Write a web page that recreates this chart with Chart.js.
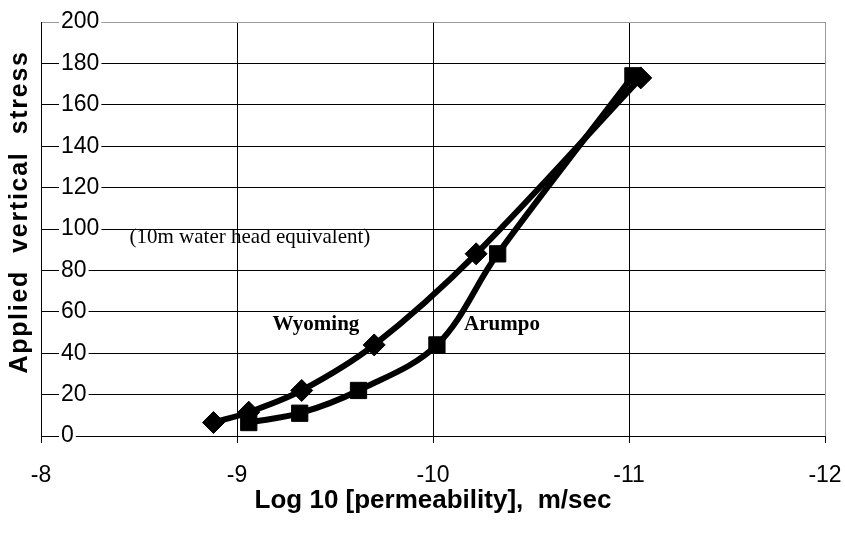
<!DOCTYPE html>
<html>
<head>
<meta charset="utf-8">
<script src="https://cdn.jsdelivr.net/npm/chart.js@4/dist/chart.umd.min.js"></script>
<style>
  html, body { margin: 0; padding: 0; background: #fff; }
  #wrap { width: 845px; height: 538px; position: relative; }
</style>
</head>
<body>
<div id="wrap"><canvas id="permChart"></canvas></div>
<script>
// log10 permeability (m/sec) and applied vertical stress
const wyomingPerm = [-8.88, -9.06, -9.33, -9.70, -10.22, -11.06];
const wyomingStress = [6.5, 11.5, 22, 44, 88, 173];
const arumpoPerm = [-9.06, -9.32, -9.62, -10.02, -10.33, -11.02];
const arumpoStress = [6.5, 11, 22, 44, 88, 174];

const xTicks = [-8, -9, -10, -11, -12];
const yTicks = [0, 20, 40, 60, 80, 100, 120, 140, 160, 180, 200];

// text notes placed in data units
const notes = [
    { text: '(10m water head equivalent)', x: -9.066, y: 96, bold: false },
    { text: 'Wyoming', x: -9.403, y: 54, bold: true },
    { text: 'Arumpo', x: -10.352, y: 54, bold: true },
];

const toPoints = (xs, ys) => xs.map((x, i) => ({ x, y: ys[i] }));

const notesPlugin = {
    id: 'notes',
    beforeDraw(chart) {
        // the y title in the figure is letter-spaced and sits a bit above centre
        const y = chart.scales.y;
        if (y && !y._spacedTitle) {
            const orig = y.drawTitle;
            y.drawTitle = function () {
                const c = this.ctx;
                c.save();
                c.letterSpacing = '1.7px';
                c.translate(0, -17);
                orig.apply(this, arguments);
                c.restore();
            };
            y._spacedTitle = true;
        }
    },
    afterDraw(chart) {
        const { ctx, scales } = chart;
        ctx.save();
        ctx.fillStyle = '#000';
        ctx.textAlign = 'center';
        ctx.textBaseline = 'middle';
        notes.forEach((n) => {
            ctx.font = `${n.bold ? 'bold ' : ''}21px "Liberation Serif", "Times New Roman", serif`;
            ctx.fillText(n.text, scales.x.getPixelForValue(n.x), scales.y.getPixelForValue(n.y));
        });
        ctx.restore();
    },
};

const sans = '"Liberation Sans", Arial, sans-serif';

new Chart(document.getElementById('permChart'), {
    type: 'line',
    data: {
        datasets: [
            {
                label: 'Wyoming',
                data: toPoints(wyomingPerm, wyomingStress),
                borderColor: '#000',
                backgroundColor: '#000',
                borderWidth: 6,
                tension: 0.35,
                pointStyle: 'rectRot',
                pointRadius: 11,
                pointBorderWidth: 1,
                pointBackgroundColor: '#000',
                pointBorderColor: '#000',
            },
            {
                label: 'Arumpo',
                data: toPoints(arumpoPerm, arumpoStress),
                borderColor: '#000',
                backgroundColor: '#000',
                borderWidth: 6,
                tension: 0.35,
                pointStyle: 'rect',
                pointRadius: 11.5,
                pointBorderWidth: 1,
                pointBackgroundColor: '#000',
                pointBorderColor: '#000',
            },
        ],
    },
    options: {
        responsive: true,
        maintainAspectRatio: false,
        animation: false,
        layout: { padding: { left: 0, top: 22, right: 20, bottom: 0 } },
        plugins: {
            legend: { display: false },
            tooltip: { enabled: false },
        },
        scales: {
            x: {
                type: 'linear',
                reverse: true,
                min: -12,
                max: -8,
                afterBuildTicks: (scale) => {
                    scale.ticks = xTicks.map((value) => ({ value }));
                },
                afterFit: (scale) => {
                    scale.height = 102;
                    scale.paddingLeft = 0;
                    scale.paddingRight = 0;
                },
                ticks: {
                    color: '#000',
                    padding: 21,
                    font: { family: sans, size: 23, lineHeight: 1 },
                },
                grid: {
                    color: (ctx) => (ctx.tick && ctx.tick.value === -12 ? '#9a9a9a' : '#000'),
                    tickColor: '#000',
                    tickLength: 7,
                    lineWidth: 1,
                },
                border: { color: '#000', width: 1 },
                title: {
                    display: true,
                    text: 'Log 10 [permeability],  m/sec',
                    color: '#000',
                    padding: { top: 0, bottom: 24 },
                    font: { family: sans, size: 26, weight: 'bold', lineHeight: 1 },
                },
            },
            y: {
                min: 0,
                max: 200,
                afterBuildTicks: (scale) => {
                    scale.ticks = yTicks.map((value) => ({ value }));
                },
                afterFit: (scale) => {
                    scale.width = 41;
                    scale.paddingTop = 0;
                    scale.paddingBottom = 0;
                },
                ticks: {
                    color: '#000',
                    mirror: true,
                    padding: 20,
                    showLabelBackdrop: true,
                    backdropColor: '#fff',
                    backdropPadding: 2,
                    font: { family: sans, size: 23, lineHeight: 1 },
                },
                grid: {
                    color: (ctx) => (ctx.tick && ctx.tick.value === 200 ? '#9a9a9a' : '#000'),
                    drawTicks: false,
                    lineWidth: 1,
                },
                border: { color: '#000', width: 1 },
                title: {
                    display: true,
                    text: 'Applied  vertical  stress',
                    color: '#000',
                    padding: { top: 8, bottom: 8 },
                    font: { family: sans, size: 25, weight: 'bold', lineHeight: 1 },
                },
            },
        },
    },
    plugins: [notesPlugin],
});
</script>
</body>
</html>
